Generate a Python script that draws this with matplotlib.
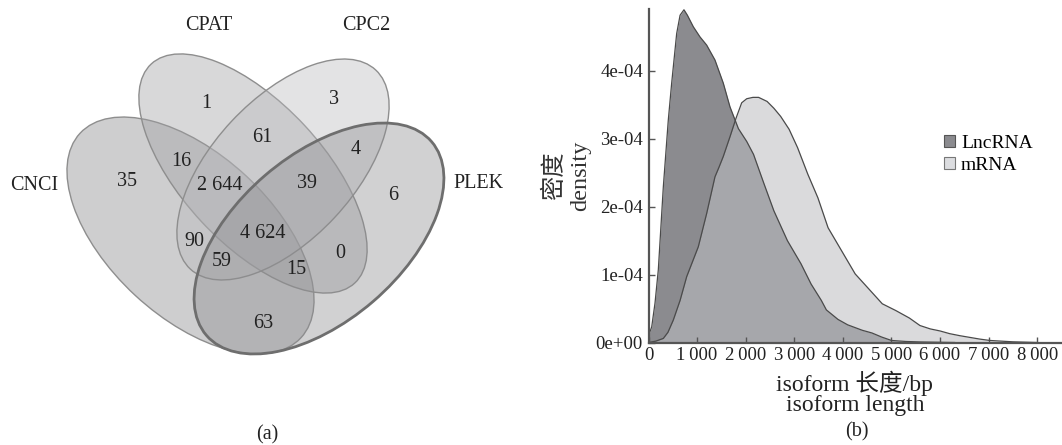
import matplotlib
matplotlib.use('Agg')
import matplotlib.pyplot as plt
from matplotlib.patches import Ellipse, Patch
from matplotlib.ticker import FuncFormatter

plt.rcParams['font.family'] = ['Liberation Serif', 'Noto Sans CJK SC']

# ---------------- data ----------------
set_names = ['CNCI', 'CPAT', 'CPC2', 'PLEK']
region_keys = ['CNCI', 'CPAT', 'CPC2', 'PLEK',
               'CNCI&CPAT', 'CPAT&CPC2', 'CPC2&PLEK', 'CNCI&PLEK',
               'CNCI&CPC2', 'CPAT&PLEK',
               'CNCI&CPAT&CPC2', 'CPAT&CPC2&PLEK', 'CNCI&CPC2&PLEK', 'CNCI&CPAT&PLEK',
               'ALL']
region_counts = [35, 1, 3, 6, 16, 61, 4, 63, 90, 0, 2644, 39, 59, 15, 4624]

lnc_len = [0, 66, 134, 202, 305, 408, 477, 580, 650, 730, 800, 922, 1060, 1197,
           1368, 1539, 1677, 1850, 2022, 2162, 2371, 2580, 2859, 3138, 3347, 3557,
           3661, 3900, 4100, 4400, 4600, 4800, 5000, 5300, 5600, 6300]
lnc_density = [0.10e-4, 0.23e-4, 0.58e-4, 1.07e-4, 2.29e-4, 3.28e-4, 3.82e-4, 4.55e-4,
               4.82e-4, 4.90e-4, 4.82e-4, 4.65e-4, 4.50e-4, 4.38e-4, 4.16e-4, 3.82e-4,
               3.47e-4, 3.15e-4, 2.96e-4, 2.77e-4, 2.35e-4, 1.94e-4, 1.50e-4, 1.16e-4,
               0.86e-4, 0.62e-4, 0.48e-4, 0.34e-4, 0.26e-4, 0.18e-4, 0.14e-4, 0.08e-4,
               0.03e-4, 0.015e-4, 0.008e-4, 0.0]
mrna_len = [0, 150, 305, 400, 510, 650, 786, 1025, 1197, 1368, 1450, 1539, 1677, 1800,
            1918, 2022, 2150, 2266, 2441, 2580, 2720, 2894, 3068, 3278, 3487, 3696,
            3975, 4254, 4533, 4812, 5091, 5370, 5587, 5800, 6000, 6200, 6410, 6820,
            7027, 7500, 8000]
mrna_density = [0.0, 0.02e-4, 0.06e-4, 0.15e-4, 0.33e-4, 0.62e-4, 0.97e-4, 1.41e-4,
                1.90e-4, 2.44e-4, 2.58e-4, 2.74e-4, 3.03e-4, 3.30e-4, 3.53e-4, 3.59e-4,
                3.61e-4, 3.61e-4, 3.55e-4, 3.45e-4, 3.33e-4, 3.14e-4, 2.87e-4, 2.48e-4,
                2.13e-4, 1.69e-4, 1.35e-4, 1.01e-4, 0.79e-4, 0.57e-4, 0.47e-4, 0.36e-4,
                0.25e-4, 0.20e-4, 0.17e-4, 0.13e-4, 0.10e-4, 0.05e-4, 0.03e-4, 0.01e-4, 0.0]
x_ticks = [0, 1000, 2000, 3000, 4000, 5000, 6000, 7000, 8000]
y_ticks = [0, 1e-4, 2e-4, 3e-4, 4e-4]
series_names = ['LncRNA', 'mRNA']

# ---------------- layout (pixel space of panel a) ----------------
ellipse_geom = {  # center x, center y, width, height, angle (y axis points down)
    'CNCI': (190.5, 235.5, 301, 163, 42.8),
    'CPAT': (253, 173.5, 299, 141, 47.1),
    'CPC2': (283, 169.5, 272, 141, -47.0),
    'PLEK': (319, 238.5, 297, 166, -40.7),
}
ellipse_style = {
    'CNCI': dict(fc=(0.525, 0.525, 0.535, 0.4), ec='#8e8e8e', lw=1.0),
    'CPAT': dict(fc=(0.625, 0.625, 0.635, 0.4), ec='#8e8e8e', lw=1.0),
    'CPC2': dict(fc=(0.725, 0.725, 0.74, 0.4), ec='#8e8e8e', lw=1.0),
    'PLEK': dict(fc=(0.55, 0.55, 0.56, 0.4), ec='#6e6e6e', lw=2.0),
}
set_label_pos = {'CNCI': (34, 186), 'CPAT': (209, 25), 'CPC2': (366, 25), 'PLEK': (479, 184)}
region_pos = {
    'CNCI': (127, 182), 'CPAT': (206, 103), 'CPC2': (334, 100), 'PLEK': (393, 196),
    'CNCI&CPAT': (181, 162), 'CPAT&CPC2': (262, 137), 'CPC2&PLEK': (356, 149),
    'CNCI&PLEK': (263, 323), 'CNCI&CPC2': (194, 241), 'CPAT&PLEK': (340, 253),
    'CNCI&CPAT&CPC2': (220, 185), 'CPAT&CPC2&PLEK': (307, 183),
    'CNCI&CPC2&PLEK': (222, 262), 'CNCI&CPAT&PLEK': (296, 270), 'ALL': (263, 233),
}

W, H = 1062, 445
fig = plt.figure(figsize=(W / 100, H / 100), dpi=100)

# ---------------- panel (a): Venn ----------------
axa = fig.add_axes([0, 0, 530 / W, 1])
axa.set_xlim(0, 530)
axa.set_ylim(445, 0)
axa.axis('off')
for name in set_names:
    cx, cy, w, h, ang = ellipse_geom[name]
    st = ellipse_style[name]
    axa.add_patch(Ellipse((cx, cy), w, h, angle=ang, facecolor=st['fc'],
                          edgecolor=st['ec'], linewidth=st['lw']))
for name in set_names:
    x, y = set_label_pos[name]
    axa.text(x, y, name, ha='center', va='center', fontsize=14.5, color='#222222')
for key, cnt in zip(region_keys, region_counts):
    x, y = region_pos[key]
    axa.text(x, y, f"{cnt:,}".replace(',', ' '), ha='center', va='center',
             fontsize=14.5, color='#222222')
axa.text(267, 435, '(a)', ha='center', va='center', fontsize=14.5, color='#222222')

# ---------------- panel (b): density ----------------
left, right, top, bottom = 648.5, 1061, 9.3, 342.5
axb = fig.add_axes([left / W, 1 - bottom / H, (right - left) / W, (bottom - top) / H])
lnc_color = '#8b8b8f'
mrna_color = (0.741, 0.745, 0.76, 0.56)
axb.fill_between(lnc_len, lnc_density, color=lnc_color, linewidth=0)
axb.fill_between(mrna_len, mrna_density, color=mrna_color, linewidth=0)
axb.plot(lnc_len, lnc_density, color='#4a4a4a', lw=0.9)
axb.plot(mrna_len, mrna_density, color='#4a4a4a', lw=0.9)
axb.set_xlim(0, 8490)
axb.set_ylim(0, 4.907e-4)
axb.set_xticks(x_ticks)
axb.set_yticks(y_ticks)
axb.xaxis.set_major_formatter(FuncFormatter(lambda v, p: f"{int(v):,}".replace(',', '\u2009')))
axb.yaxis.set_major_formatter(FuncFormatter(lambda v, p: f"{v:.0e}"))
for s in ['top', 'right']:
    axb.spines[s].set_visible(False)
for s in ['left', 'bottom']:
    axb.spines[s].set_color('#555555')
    axb.spines[s].set_linewidth(1.6)
axb.tick_params(direction='in', length=4, width=1, color='#555555',
                labelsize=13.5, labelcolor='#222222')
axb.tick_params(axis='y', pad=4)
axb.tick_params(axis='x', pad=3)
axb.set_ylabel('密度\ndensity', fontsize=17.5, color='#333333', linespacing=1.3, labelpad=3)
axb.set_xlabel('isoform 长度/bp\nisoform length', fontsize=17, color='#222222',
               linespacing=0.95, labelpad=5)
fig.text(857 / W, 1 - 432 / H, '(b)', ha='center', va='center', fontsize=14.5, color='#222222')

handles = [Patch(facecolor=lnc_color, edgecolor='#555555', linewidth=0.8),
           Patch(facecolor='#dcdde0', edgecolor='#777777', linewidth=0.8)]
fig.legend(handles, series_names, loc='upper left', bbox_to_anchor=(944 / W, 1 - 135 / H),
           frameon=False, fontsize=14, handlelength=0.57, handleheight=0.57,
           handletextpad=0.3, labelspacing=0.25, borderpad=0, borderaxespad=0)

fig.savefig('out.png', dpi=100)
